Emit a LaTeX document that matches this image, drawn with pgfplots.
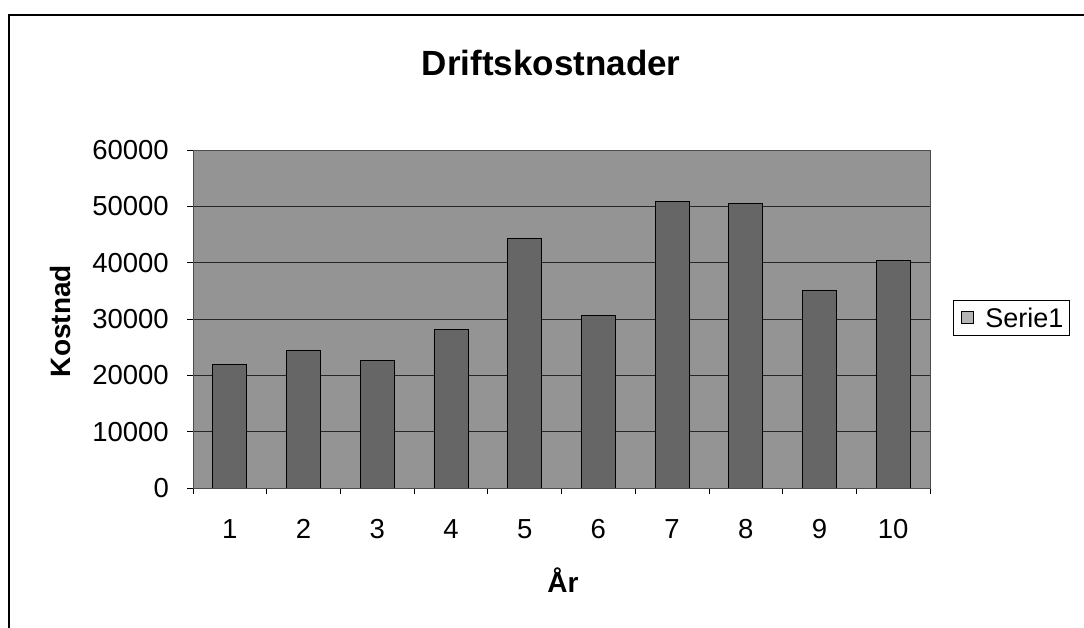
\documentclass[border=0pt]{standalone}
\usepackage{pgfplots}
\pgfplotsset{compat=1.18}
\usepackage{fontspec}
\setmainfont{Liberation Sans}
\definecolor{bgdither}{gray}{0.58}
\definecolor{bardither}{gray}{0.40}
\begin{document}
\begin{tikzpicture}[x=1pt,y=1pt]
\useasboundingbox (0,0) rectangle (1084,628);
\draw[line width=2pt] (1084,613) -- (9,613) -- (9,0);
\begin{axis}[
  at={(193pt,140pt)}, anchor=south west,
  scale only axis, width=737pt, height=338pt,
  xmin=0.5, xmax=10.5, ymin=0, ymax=60000,
  axis background/.style={fill=bgdither},
  axis line style={black!70, line width=0.8pt},
  ytick={0,10000,...,60000},
  xtick={1,...,10},
  minor xtick={0.5,1.5,...,10.5},
  major x tick style={draw=none},
  minor x tick style={black, line width=0.8pt},
  y tick style={black, line width=0.8pt},
  tick align=outside,
  major tick length=6pt, minor tick length=6pt,
  xtick pos=bottom, ytick pos=left,
  ymajorgrids, grid style={black!85, line width=0.8pt},
  minor grid style={draw=none},
  scaled y ticks=false,
  /pgf/number format/1000 sep={},
  /pgf/number format/assume math mode=true,
  tick label style={font=\fontsize{27.5}{30}\selectfont},
  yticklabel style={anchor=east, inner sep=0pt, xshift=-18pt},
  xticklabel style={anchor=north, inner sep=0pt, yshift=-25pt},
  title={\textbf{Driftskostnader}},
  title style={font=\fontsize{35}{40}\selectfont, at={(axis description cs:0.486,1.239)}, anchor=center},
  xlabel={\textbf{År}},
  xlabel style={font=\fontsize{28}{32}\selectfont, at={(axis description cs:0.502,-0.272)}, anchor=center},
  ylabel={\textbf{Kostnad}},
  ylabel style={font=\fontsize{28}{32}\selectfont, at={(axis description cs:-0.180,0.494)}, anchor=center, rotate=0},
  legend style={at={(axis description cs:1.031,0.503)}, anchor=west,
    font=\fontsize{27}{30}\selectfont, draw=black, line width=0.8pt,
    inner xsep=4pt, inner ysep=5pt, cells={anchor=west}},
  legend image code/.code={\path[draw=none,fill=none] (0pt,-6pt) rectangle (26pt,6pt); \draw[fill=bgdither!70!white, draw=black, line width=1pt] (4pt,-6pt) rectangle (16pt,6pt);},
]
\addplot[ybar, bar width=34pt, bar shift=0pt, fill=bardither, draw=black, line width=0.8pt]
  coordinates {(1,22000) (2,24400) (3,22600) (4,28200) (5,44300) (6,30600) (7,50800) (8,50500) (9,35000) (10,40400)};
\addlegendentry{Serie1}
\end{axis}
\end{tikzpicture}
\end{document}
